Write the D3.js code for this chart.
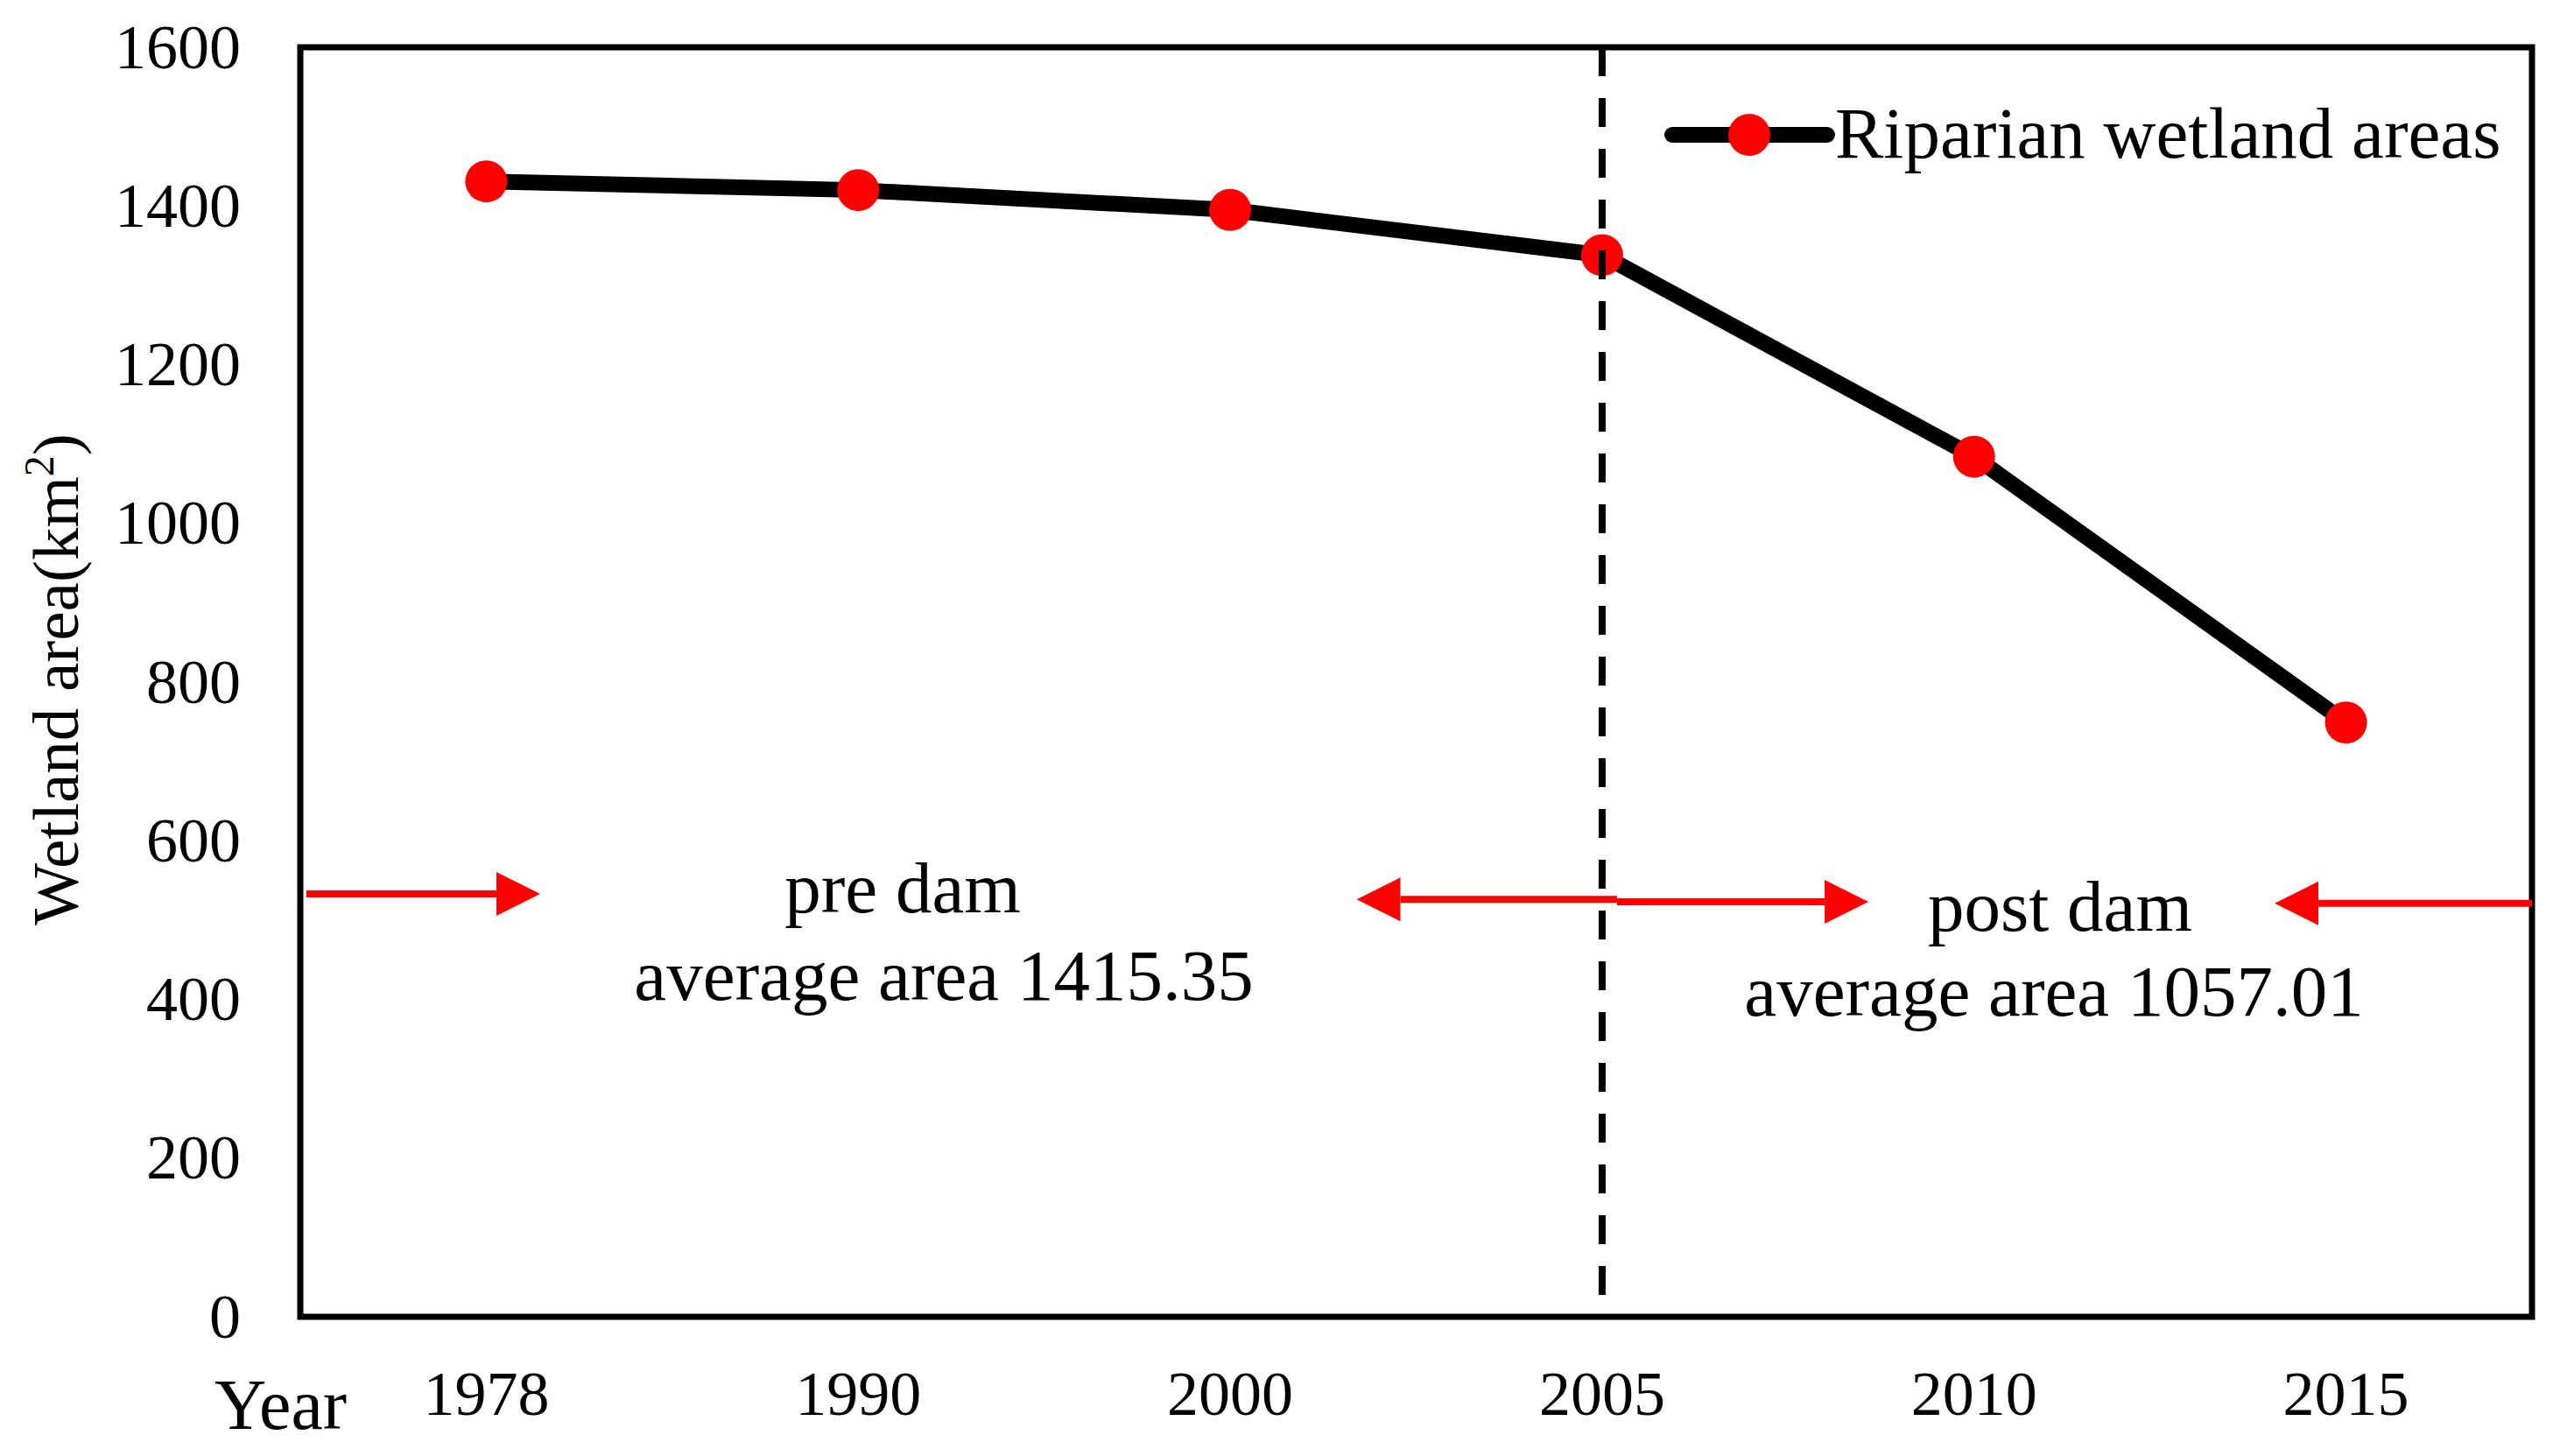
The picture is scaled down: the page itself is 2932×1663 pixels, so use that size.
<!DOCTYPE html>
<html>
<head>
    <meta charset="utf-8">
    <title>Riparian wetland areas</title>
    <script src="https://d3js.org/d3.v7.min.js"></script>
    <style>
        body { margin: 0; background: #fff; }
        text { font-family: "Liberation Serif", "Times New Roman", serif; fill: #000; }
    </style>
</head>
<body>
    <script>
        var years = ["1978", "1990", "2000", "2005", "2010", "2015"];
        var areas = [1431, 1420, 1395, 1338, 1084, 749];
        var yTicks = [0, 200, 400, 600, 800, 1000, 1200, 1400, 1600];
        var damYear = "2005";
        var seriesName = "Riparian wetland areas";
        var preLabel = ["pre dam", "average area 1415.35"];
        var postLabel = ["post dam", "average area 1057.01"];

        var width = 2932, height = 1663;
        var plot = { left: 343, right: 2892, top: 54, bottom: 1504 };

        var svg = d3.select("body").append("svg")
            .attr("width", width)
            .attr("height", height);

        var x = d3.scaleBand().domain(years).range([plot.left, plot.right]);
        var y = d3.scaleLinear().domain([0, 1600]).range([plot.bottom, plot.top]);
        // index space across the bands, used for the period arrows
        var xi = d3.scaleLinear().domain([0, years.length]).range([plot.left, plot.right]);
        function cx(d) { return x(d) + x.bandwidth() / 2; }

        // axes
        var yAxis = svg.append("g")
            .attr("transform", "translate(" + plot.left + ",0)")
            .call(d3.axisLeft(y).tickValues(yTicks).tickFormat(d3.format("d")).tickSize(0).tickPadding(68));
        yAxis.select(".domain").remove();
        yAxis.selectAll("text").attr("font-size", 72);

        var xAxis = svg.append("g")
            .attr("transform", "translate(0," + plot.bottom + ")")
            .call(d3.axisBottom(x).tickSize(0));
        xAxis.select(".domain").remove();
        xAxis.selectAll("text")
            .attr("font-size", 72)
            .attr("y", 112)
            .attr("dy", 0);

        // frame
        svg.append("rect")
            .attr("x", plot.left)
            .attr("y", plot.top)
            .attr("width", plot.right - plot.left)
            .attr("height", plot.bottom - plot.top)
            .attr("fill", "none")
            .attr("stroke", "#000")
            .attr("stroke-width", 7);

        // axis titles
        var yTitle = svg.append("text")
            .attr("transform", "translate(89,776) rotate(-90)")
            .attr("text-anchor", "middle")
            .attr("font-size", 75);
        yTitle.append("tspan").text("Wetland area(km");
        yTitle.append("tspan").attr("font-size", 48).attr("dy", -28).text("2");
        yTitle.append("tspan").attr("dy", 28).text(")");

        svg.append("text")
            .attr("x", 245)
            .attr("y", 1632)
            .attr("font-size", 82)
            .text("Year");

        // data line and points
        var data = years.map(function (d, i) { return { year: d, area: areas[i] }; });

        svg.append("path")
            .datum(data)
            .attr("fill", "none")
            .attr("stroke", "#000")
            .attr("stroke-width", 18)
            .attr("stroke-linejoin", "round")
            .attr("d", d3.line()
                .x(function (d) { return cx(d.year); })
                .y(function (d) { return y(d.area); }));

        svg.selectAll("circle.pt")
            .data(data)
            .enter()
            .append("circle")
            .attr("class", "pt")
            .attr("cx", function (d) { return cx(d.year); })
            .attr("cy", function (d) { return y(d.area); })
            .attr("r", 24)
            .attr("fill", "#ff0000");

        // dam year
        svg.append("line")
            .attr("x1", cx(damYear)).attr("x2", cx(damYear))
            .attr("y1", y(1600)).attr("y2", y(0))
            .attr("stroke", "#000")
            .attr("stroke-width", 8)
            .attr("stroke-dasharray", "33,25");

        // period arrows: [from, to] in band index units, level in km2
        var arrows = [
            { from: 0.016, to: 0.645, level: 533 },
            { from: 3.54, to: 2.84, level: 526 },
            { from: 3.54, to: 4.216, level: 523 },
            { from: 6, to: 5.308, level: 521 }
        ];
        var headLen = 50, headHalf = 25;

        arrows.forEach(function (a) {
            var x1 = xi(a.from), x2 = xi(a.to), yy = y(a.level);
            var dir = x2 > x1 ? 1 : -1;
            var base = x2 - dir * headLen;
            svg.append("line")
                .attr("x1", x1).attr("x2", base)
                .attr("y1", yy).attr("y2", yy)
                .attr("stroke", "#ff0000")
                .attr("stroke-width", 8);
            svg.append("path")
                .attr("d", "M" + x2 + "," + yy + "L" + base + "," + (yy - headHalf) + "L" + base + "," + (yy + headHalf) + "Z")
                .attr("fill", "#ff0000");
        });

        // period labels
        function periodLabel(lines, centers, baselines) {
            lines.forEach(function (t, i) {
                svg.append("text")
                    .attr("x", centers[i])
                    .attr("y", baselines[i])
                    .attr("text-anchor", "middle")
                    .attr("font-size", 83)
                    .text(t);
            });
        }
        periodLabel(preLabel, [1031, 1078], [1042, 1142]);
        periodLabel(postLabel, [2353, 2346], [1063, 1160]);

        // legend
        var lg = svg.append("g");
        lg.append("line")
            .attr("x1", 1910).attr("x2", 2087)
            .attr("y1", 154).attr("y2", 154)
            .attr("stroke", "#000")
            .attr("stroke-width", 18)
            .attr("stroke-linecap", "round");
        lg.append("circle")
            .attr("cx", 1998).attr("cy", 154)
            .attr("r", 24)
            .attr("fill", "#ff0000");
        lg.append("text")
            .attr("x", 2096)
            .attr("y", 180)
            .attr("font-size", 83)
            .text(seriesName);
    </script>
</body>
</html>
